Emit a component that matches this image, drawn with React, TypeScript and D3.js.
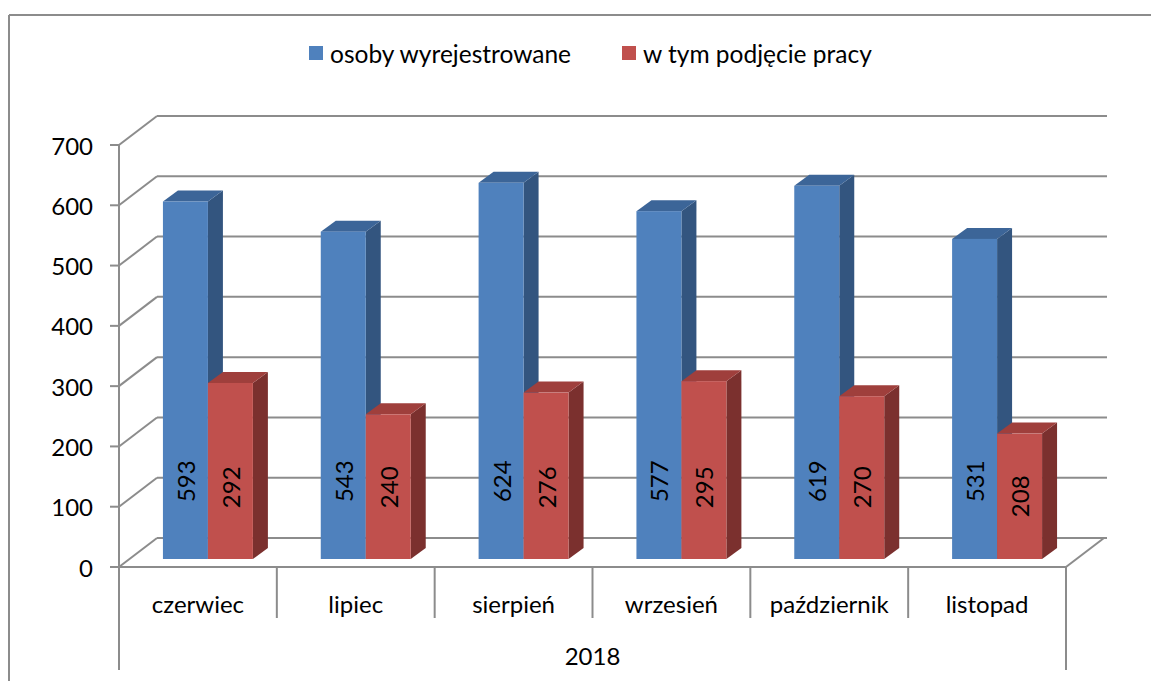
import React from 'react';
import * as d3 from 'd3';

const months = ['czerwiec', 'lipiec', 'sierpień', 'wrzesień', 'październik', 'listopad'];
const yearLabel = '2018';
const seriesNames = ['osoby wyrejestrowane', 'w tym podjęcie pracy'];
const wyrejestrowane = [593, 543, 624, 577, 619, 531];
const podjeciePracy = [292, 240, 276, 295, 270, 208];
const yTicks = [0, 100, 200, 300, 400, 500, 600, 700];

const FONT = 'Lato, "Open Sans", sans-serif';
const GRID = '#8c8c8c';

// face colours per series: front, side, top
const palette = [
  { front: '#4f81bd', side: '#33557f', top: '#3c6598' },
  { front: '#c0504d', side: '#7b302e', top: '#9f3f3c' },
];

const W = 1151, H = 681;
const left = 119, right = 1066, floorY = 567, topY = 145;
const depth = { dx: 38, dy: -29 };   // wall depth
const barOff = { dx: 10, dy: -8 };   // bar front plane
const barDepth = { dx: 15, dy: -11 }; // bar thickness

const App = () => {
  const y = d3.scaleLinear().domain([0, 700]).range([floorY, topY]);
  const x0 = d3.scaleBand().domain(months).range([left, right]);
  const barW = x0.bandwidth() * 0.285;
  const x1 = d3.scaleBand().domain(seriesNames).range([-barW, barW]);

  const series = [wyrejestrowane, podjeciePracy];
  const labelCap = [129, 119];

  const bars: JSX.Element[] = [];
  months.forEach((m, i) => {
    const cx = (x0(m) as number) + x0.bandwidth() / 2 + barOff.dx;
    series.forEach((vals, s) => {
      const v = vals[i];
      const xa = cx + (x1(seriesNames[s]) as number);
      const xb = xa + x1.bandwidth();
      const yb = y(0) + barOff.dy;
      const yt = y(v) + barOff.dy;
      const c = palette[s];
      const ddx = barDepth.dx, ddy = barDepth.dy;
      const ly = y(Math.min(v / 2, labelCap[s])) + barOff.dy;
      bars.push(
        <g key={`${m}-${s}`}>
          <polygon points={`${xb},${yt} ${xb + ddx},${yt + ddy} ${xb + ddx},${yb + ddy} ${xb},${yb}`} fill={c.side} />
          <polygon points={`${xa},${yt} ${xa + ddx},${yt + ddy} ${xb + ddx},${yt + ddy} ${xb},${yt}`} fill={c.top} />
          <rect x={xa} y={yt} width={xb - xa} height={yb - yt} fill={c.front} />
          <text
            transform={`translate(${(xa + xb) / 2},${ly}) rotate(-90)`}
            textAnchor="middle"
            dominantBaseline="central"
            fontFamily={FONT}
            fontSize={24}
            fill="#000"
          >
            {v}
          </text>
        </g>
      );
    });
  });

  return (
    <svg width={W} height={H} style={{ position: 'absolute', left: 0, top: 0, background: '#fff' }}>
      {/* outer frame */}
      <line x1={9} y1={15} x2={W} y2={15} stroke={GRID} strokeWidth={2} />
      <line x1={9} y1={15} x2={9} y2={H} stroke={GRID} strokeWidth={2} />

      {/* legend */}
      <g fontFamily={FONT} fontSize={24.5} fill="#000">
        <rect x={309} y={46} width={14} height={14} fill={palette[0].front} />
        <text x={330} y={53} dominantBaseline="central">{seriesNames[0]}</text>
        <rect x={622} y={46} width={14} height={14} fill={palette[1].front} />
        <text x={643} y={53} dominantBaseline="central">{seriesNames[1]}</text>
      </g>

      {/* walls and gridlines */}
      {yTicks.map(t => (
        <g key={t} stroke={GRID} strokeWidth={2} fill="none">
          <line x1={left} y1={y(t)} x2={left + depth.dx} y2={y(t) + depth.dy} />
          <line x1={left + depth.dx} y1={y(t) + depth.dy} x2={right + depth.dx + 3} y2={y(t) + depth.dy} />
          <line x1={left - 9} y1={y(t)} x2={left} y2={y(t)} />
        </g>
      ))}
      {/* floor */}
      <g stroke={GRID} strokeWidth={2}>
        <line x1={right} y1={floorY} x2={right + depth.dx} y2={floorY + depth.dy} />
      </g>

      {bars}

      {/* front axes */}
      <g stroke={GRID} strokeWidth={2}>
        <line x1={left} y1={floorY} x2={right} y2={floorY} />
        <line x1={left} y1={topY} x2={left} y2={670} />
        <line x1={right} y1={floorY} x2={right} y2={670} />
        {months.slice(1).map(m => (
          <line key={m} x1={x0(m)} y1={floorY} x2={x0(m)} y2={618} />
        ))}
      </g>

      {/* tick labels */}
      <g fontFamily={FONT} fontSize={24} fill="#000" textAnchor="end">
        {yTicks.map(t => (
          <text key={t} x={93} y={y(t)} dominantBaseline="central">{t}</text>
        ))}
      </g>

      {/* category labels */}
      <g fontFamily={FONT} fontSize={24} fill="#000" textAnchor="middle">
        {months.map(m => (
          <text key={m} x={(x0(m) as number) + x0.bandwidth() / 2} y={603} dominantBaseline="central">{m}</text>
        ))}
        <text x={(left + right) / 2} y={655} dominantBaseline="central">{yearLabel}</text>
      </g>
    </svg>
  );
};

export default App;
